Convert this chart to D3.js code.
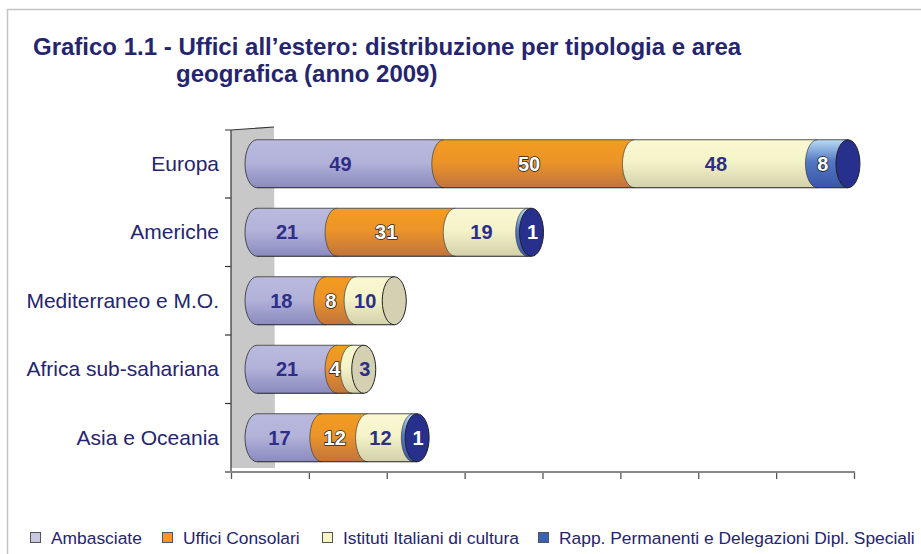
<!DOCTYPE html>
<html>
<head>
<meta charset="utf-8">
<script src="https://cdn.jsdelivr.net/npm/d3@7"></script>
<style>
  html, body { margin: 0; padding: 0; background: #fff; }
  svg { display: block; font-family: "Liberation Sans", Arial, sans-serif; }
</style>
</head>
<body>
<svg id="chart" width="921" height="554"></svg>
<script>
// ---- data ----
const titleLines = ["Grafico 1.1 - Uffici all\u2019estero: distribuzione per tipologia e area", "geografica (anno 2009)"];
const categories = ["Europa", "Americhe", "Mediterraneo e M.O.", "Africa sub-sahariana", "Asia e Oceania"];
const seriesNames = ["Ambasciate", "Uffici Consolari", "Istituti Italiani di cultura", "Rapp. Permanenti e Delegazioni Dipl. Speciali"];
const ambasciate = [49, 21, 18, 21, 17];
const ufficiConsolari = [50, 31, 8, 4, 12];
const istituti = [48, 19, 10, 3, 12];
const rapp = [8, 1, 0, 0, 1];
const xTicks = [0, 20, 40, 60, 80, 100, 120, 140, 160];

// ---- styles ----
const seriesStyle = [
  { stops: ["#babadf", "#b3b3da", "#8a8abf"], cap: "#a9a9d2", label: "#2e2e86", outline: false, legend: "#c8c8e4" },
  { stops: ["#f39c20", "#ec9428", "#c0743e"], cap: "#d88530", label: "#ffffff", outline: true, legend: "#f5961e" },
  { stops: ["#faf8d2", "#f5f3c9", "#d3d1aa"], cap: "#d3d1b1", label: "#2e2e86", outline: false, legend: "#f8f6c4" },
  { stops: ["#b9dcf4", "#5378c4", "#3756a6"], cap: "#27308d", label: "#ffffff", outline: true, legend: "#3a62b4" }
];
const navy = "#25256f";

const svg = d3.select("#chart");
const defs = svg.append("defs");
seriesStyle.forEach((s, i) => {
  const g = defs.append("linearGradient").attr("id", "grad" + i)
    .attr("x1", 0).attr("y1", 0).attr("x2", 0).attr("y2", 1);
  g.append("stop").attr("offset", "0%").attr("stop-color", s.stops[0]);
  g.append("stop").attr("offset", "45%").attr("stop-color", s.stops[1]);
  g.append("stop").attr("offset", "100%").attr("stop-color", s.stops[2]);
});

// frame
svg.append("rect").attr("x", 7.5).attr("y", 9.5).attr("width", 940).attr("height", 560)
  .attr("fill", "#fff").attr("stroke", "#c4c4c4").attr("stroke-width", 1.5);

// title
svg.append("text").attr("x", 33).attr("y", 55).attr("font-size", 24).attr("font-weight", "bold")
  .attr("fill", navy).text(titleLines[0]);
svg.append("text").attr("x", 176).attr("y", 82).attr("font-size", 24).attr("font-weight", "bold")
  .attr("fill", navy).text(titleLines[1]);

// scales
const axisX = d3.scaleLinear().domain([0, 160]).range([231, 854]);
const barX = d3.scaleLinear().domain([0, 160]).range([257, 867]);
const y = d3.scaleBand().domain(categories).range([129.5, 472]).paddingInner(0).paddingOuter(0);
const barH = 48;
const rx = 12, ry = barH / 2;

// back wall (3D depth)
svg.append("path")
  .attr("d", `M231,130 L274,127 L275,468 L231,468 Z`)
  .attr("fill", "#c8c8c8");
svg.append("path").attr("d", "M225,130 L231,130 L274,127").attr("fill", "none").attr("stroke", "#333").attr("stroke-width", 1.2);

// vertical axis
svg.append("line").attr("x1", 231).attr("x2", 231).attr("y1", 130).attr("y2", 472)
  .attr("stroke", "#333").attr("stroke-width", 1.2);
const bounds = categories.map(c => y(c) + y.bandwidth()).slice(0, -1);
svg.selectAll(".ytick").data(bounds).join("line")
  .attr("x1", 225).attr("x2", 231).attr("y1", d => d).attr("y2", d => d)
  .attr("stroke", "#333").attr("stroke-width", 1.2);

// horizontal axis
const xAxisG = svg.append("g").attr("transform", "translate(0,472)")
  .call(d3.axisBottom(axisX).tickValues(xTicks).tickSize(7).tickFormat(""));
xAxisG.select(".domain").remove();
xAxisG.selectAll(".tick line").attr("stroke", "#555").attr("stroke-width", 1.3);
svg.append("line").attr("x1", 225).attr("x2", 855).attr("y1", 472).attr("y2", 472)
  .attr("stroke", "#888").attr("stroke-width", 2);

// category labels
svg.selectAll(".cat").data(categories).join("text")
  .attr("x", 219).attr("y", d => y(d) + y.bandwidth() / 2 + 7)
  .attr("text-anchor", "end").attr("font-size", 21).attr("fill", navy).text(d => d);

// stacked data
const rows = categories.map((c, i) => ({ cat: c, s0: ambasciate[i], s1: ufficiConsolari[i], s2: istituti[i], s3: rapp[i] }));
const stack = d3.stack().keys(["s0", "s1", "s2", "s3"]);
const stacked = stack(rows);

const barsG = svg.append("g");
rows.forEach((row, ri) => {
  const cy = y(row.cat) + y.bandwidth() / 2;
  const top = cy - ry, bot = cy + ry;
  const g = barsG.append("g");
  let lastIdx = -1;
  stacked.forEach((layer, si) => {
    const [a, b] = layer[ri];
    if (b - a <= 0) return;
    lastIdx = si;
    const xs = barX(a), xe = barX(b);
    g.append("path")
      .attr("d", `M${xs},${top} A${rx},${ry} 0 0 0 ${xs},${bot} L${xe},${bot} L${xe},${top} Z`)
      .attr("fill", `url(#grad${si})`);
    g.append("path")
      .attr("d", `M${xs},${top} A${rx},${ry} 0 0 0 ${xs},${bot}`)
      .attr("fill", "none").attr("stroke", "#3a3a3a").attr("stroke-width", 0.9).attr("stroke-opacity", si === 0 ? 1 : 0.75);
  });
  const total = d3.sum(stacked, l => l[ri][1] - l[ri][0]);
  // outline top/bottom
  g.append("line").attr("x1", barX(0)).attr("x2", barX(total)).attr("y1", top).attr("y2", top)
    .attr("stroke", "#555").attr("stroke-width", 1.2);
  g.append("line").attr("x1", barX(0)).attr("x2", barX(total)).attr("y1", bot).attr("y2", bot)
    .attr("stroke", "#222").attr("stroke-width", 1.2);
  // end cap
  g.append("ellipse").attr("cx", barX(total)).attr("cy", cy).attr("rx", rx).attr("ry", ry)
    .attr("fill", seriesStyle[lastIdx].cap).attr("stroke", "#222").attr("stroke-width", 1);

  // labels
  stacked.forEach((layer, si) => {
    const [a, b] = layer[ri];
    const v = b - a;
    if (v <= 0) return;
    const w = barX(b) - barX(a);
    let lx = barX((a + b) / 2) - 10;
    let onCap = false;
    if (si === lastIdx && w < 20) { lx = barX(b) + 1; onCap = true; }
    const st = seriesStyle[si];
    const t = g.append("text").attr("x", lx).attr("y", cy + 7)
      .attr("text-anchor", "middle").attr("font-size", 20).attr("font-weight", "bold")
      .text(v);
    if (onCap) {
      t.attr("fill", si === 3 ? "#ffffff" : st.label);
    } else if (st.outline) {
      t.attr("fill", "#ffffff").attr("stroke", "#2a2a2a").attr("stroke-width", 1.6)
        .attr("paint-order", "stroke").attr("stroke-linejoin", "round");
    } else {
      t.attr("fill", st.label);
    }
  });
});

// legend
const legendX = [30, 162, 322, 538];
const lg = svg.selectAll(".leg").data(seriesNames).join("g")
  .attr("transform", (d, i) => `translate(${legendX[i]},532)`);
lg.append("rect").attr("x", 0.5).attr("y", 0.5).attr("width", 10).attr("height", 10)
  .attr("fill", (d, i) => seriesStyle[i].legend).attr("stroke", "#555").attr("stroke-width", 1);
lg.append("text").attr("x", 21).attr("y", 12).attr("font-size", 17.4).attr("fill", navy).text(d => d);
</script>
</body>
</html>
